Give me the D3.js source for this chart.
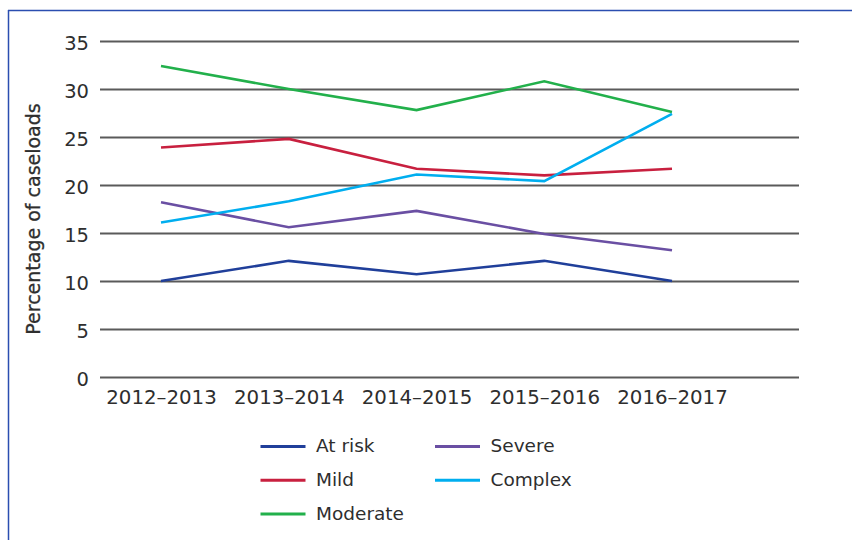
<!DOCTYPE html>
<html>
<head>
<meta charset="utf-8">
<script src="https://cdn.jsdelivr.net/npm/d3@7"></script>
<style>
  html, body { margin: 0; padding: 0; background: #fff; }
  svg { display: block; font-family: "DejaVu Sans", "Liberation Sans", Arial, sans-serif; }
</style>
</head>
<body>
<svg id="chart" width="852" height="540"></svg>
<script>
// Caseload share by risk level, per financial year
const years = ["2012–2013", "2013–2014", "2014–2015", "2015–2016", "2016–2017"];
const atRisk   = [10.0, 12.1, 10.7, 12.1, 10.0];
const mild     = [23.9, 24.8, 21.7, 21.0, 21.7];
const moderate = [32.4, 30.0, 27.8, 30.8, 27.6];
const severe   = [18.2, 15.6, 17.3, 14.9, 13.2];
const complex  = [16.1, 18.3, 21.1, 20.4, 27.4];
const yTicks = [0, 5, 10, 15, 20, 25, 30, 35];

const series = [
  { name: "At risk",  values: atRisk,   color: "#203f9a" },
  { name: "Mild",     values: mild,     color: "#c8203f" },
  { name: "Moderate", values: moderate, color: "#22b04b" },
  { name: "Severe",   values: severe,   color: "#6a4fa3" },
  { name: "Complex",  values: complex,  color: "#00aeef" }
];

const textColor = "#2e2e2e";
const svg = d3.select("#chart");

// frame
svg.append("line").attr("x1", 8.5).attr("x2", 8.5).attr("y1", 10).attr("y2", 540)
  .attr("stroke", "#2b4eb0").attr("stroke-width", 1.5);
svg.append("line").attr("x1", 8).attr("x2", 852).attr("y1", 10.5).attr("y2", 10.5)
  .attr("stroke", "#2b4eb0").attr("stroke-width", 1.5);

const plotLeft = 100, plotRight = 799;
const y = d3.scaleLinear().domain([0, 35]).range([377, 41]);
const step = 127.75;
const x = d3.scalePoint().domain(years).range([161, 161 + step * (years.length - 1)]);

// horizontal gridlines + value labels
const yAxis = d3.axisLeft(y).tickValues(yTicks).tickSize(0).tickPadding(0);
const gy = svg.append("g").attr("transform", `translate(${plotLeft},0)`).call(yAxis);
gy.select(".domain").remove();
gy.selectAll(".tick text")
  .attr("x", -11).attr("dy", 8.5)
  .attr("font-size", 19.5).attr("fill", textColor)
  .attr("font-family", "\"DejaVu Sans\", sans-serif");
gy.selectAll(".tick").append("line")
  .attr("x1", 0).attr("x2", plotRight - plotLeft)
  .attr("stroke", "#5a5a5a").attr("stroke-width", 2);

// category labels
const xAxis = d3.axisBottom(x).tickSize(0).tickPadding(0);
const gx = svg.append("g").attr("transform", "translate(0,404)").call(xAxis);
gx.select(".domain").remove();
gx.selectAll(".tick text")
  .attr("y", 0).attr("dy", 0)
  .attr("font-size", 19.8).attr("fill", textColor)
  .attr("font-family", "\"DejaVu Sans\", sans-serif");

// axis title
svg.append("text")
  .attr("transform", "translate(39.5,219) rotate(-90)")
  .attr("text-anchor", "middle")
  .attr("font-size", 19).attr("fill", textColor)
  .attr("stroke", textColor).attr("stroke-width", 0.3)
  .text("Percentage of caseloads");

// series lines
const line = d3.line().x((d, i) => x(years[i])).y(d => y(d));
svg.append("g").selectAll("path").data(series).join("path")
  .attr("d", d => line(d.values))
  .attr("fill", "none")
  .attr("stroke", d => d.color)
  .attr("stroke-width", 2.6)
  .attr("stroke-linejoin", "miter");

// legend, two columns
const legendOrder = ["At risk", "Severe", "Mild", "Complex", "Moderate"];
const lg = svg.append("g");
legendOrder.forEach((name, i) => {
  const s = series.find(d => d.name === name);
  const col = i % 2, row = Math.floor(i / 2);
  const lx = col === 0 ? 260.5 : 435;
  const ly = 446.5 + row * 33.8;
  lg.append("line").attr("x1", lx).attr("x2", lx + 45).attr("y1", ly).attr("y2", ly)
    .attr("stroke", s.color).attr("stroke-width", 3);
  lg.append("text").attr("x", lx + 55.5).attr("y", ly + 5.5)
    .attr("font-size", 18.5).attr("fill", textColor).text(name);
});
</script>
</body>
</html>
